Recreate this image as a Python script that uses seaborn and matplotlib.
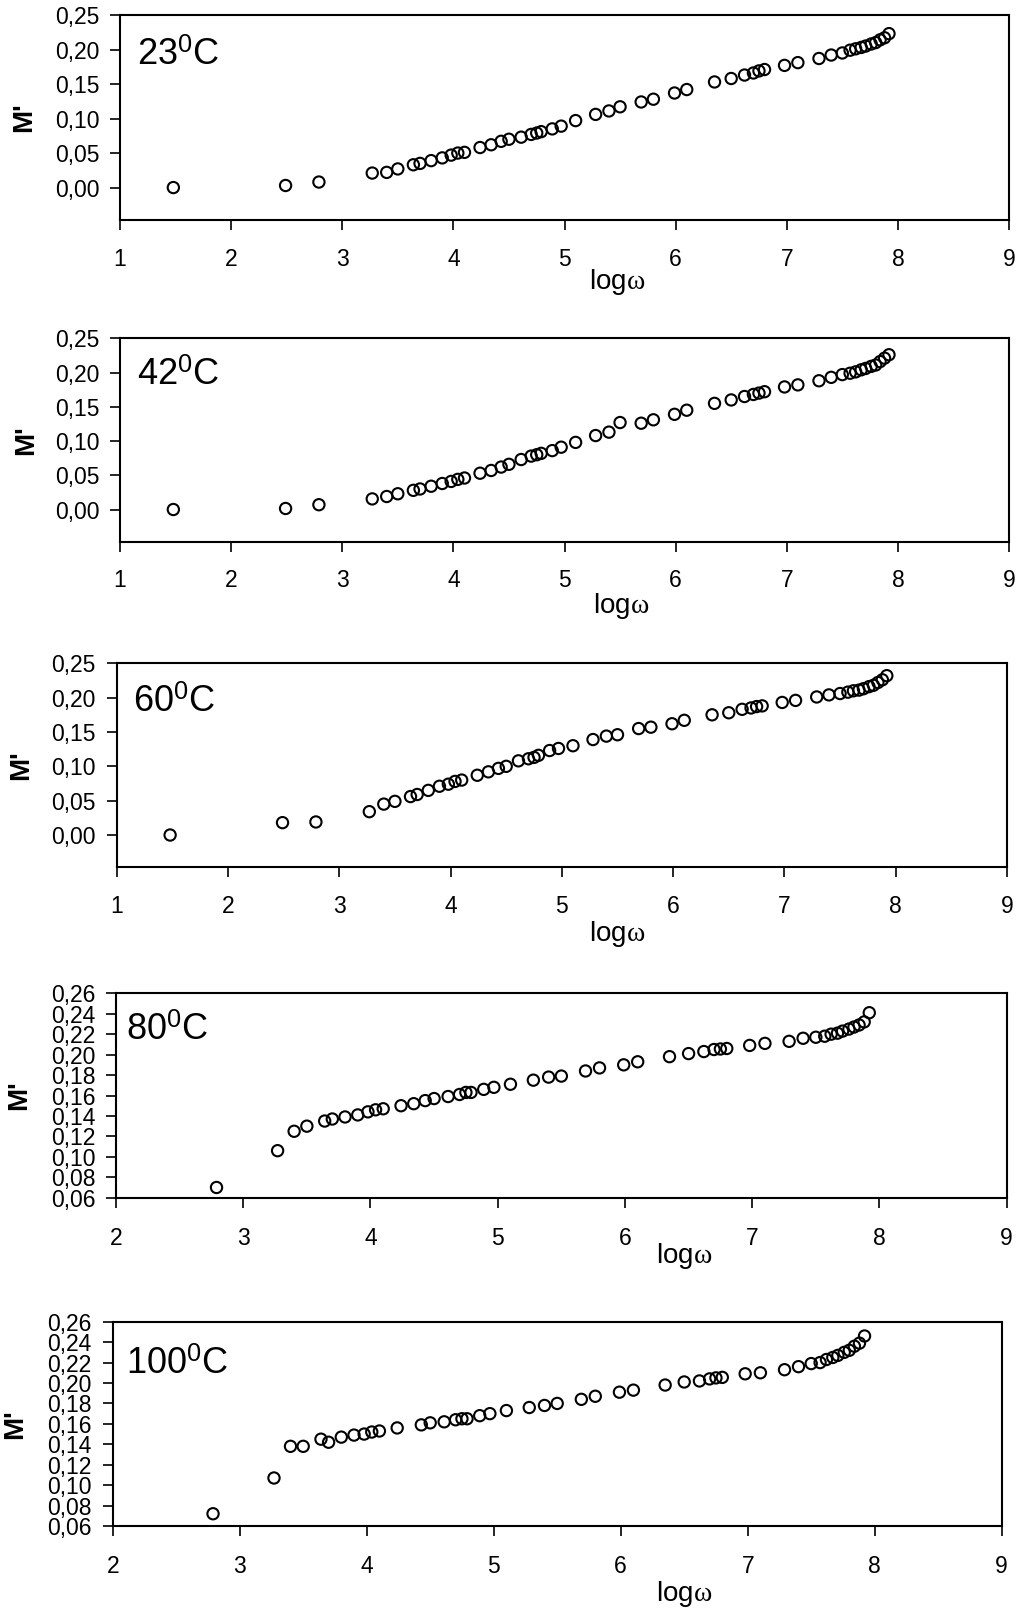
import numpy as np
import pandas as pd
import matplotlib
matplotlib.use("Agg")
import matplotlib.pyplot as plt
import seaborn as sns
from matplotlib.ticker import FixedLocator, FuncFormatter

nan = np.nan

# ---------------- data ----------------
LOG_W = [1.48, 2.49, 2.79, 3.27, 3.40, 3.50, 3.64, 3.70, 3.80, 3.90,
         3.98, 4.04, 4.10, 4.24, 4.34, 4.43, 4.50, 4.61, 4.70, 4.75,
         4.79, 4.89, 4.97, 5.10, 5.28, 5.40, 5.50, 5.69, 5.80, 5.99,
         6.10, 6.35, 6.50, 6.62, 6.70, 6.75, 6.80, 6.98, 7.10, 7.29,
         7.40, 7.50, 7.57, 7.62, 7.67, 7.71, 7.76, 7.80, 7.84, 7.88,
         7.92]

M_23 = [0.000, 0.003, 0.008, 0.021, 0.022, 0.027, 0.033, 0.035, 0.039, 0.043,
        0.047, 0.050, 0.051, 0.058, 0.062, 0.067, 0.070, 0.073, 0.077, 0.079,
        0.081, 0.085, 0.089, 0.097, 0.106, 0.111, 0.117, 0.124, 0.128, 0.137,
        0.142, 0.153, 0.158, 0.163, 0.166, 0.169, 0.171, 0.177, 0.181, 0.187,
        0.192, 0.195, 0.199, 0.201, 0.203, 0.205, 0.208, 0.210, 0.214, 0.217,
        0.223]

M_42 = [0.000, 0.0015, 0.007, 0.0155, 0.019, 0.023, 0.028, 0.030, 0.034, 0.038,
        0.041, 0.044, 0.046, 0.053, 0.057, 0.062, 0.066, 0.073, 0.078, 0.080,
        0.082, 0.086, 0.091, 0.098, 0.108, 0.113, 0.127, 0.126, 0.131, 0.139,
        0.145, 0.155, 0.160, 0.165, 0.168, 0.170, 0.172, 0.179, 0.182, 0.188,
        0.193, 0.197, 0.199, 0.201, 0.204, 0.206, 0.209, 0.211, 0.216, 0.221,
        0.226]

M_60 = [0.000, 0.018, 0.019, 0.034, 0.045, 0.049, 0.056, 0.059, 0.065, 0.071,
        0.074, 0.078, 0.080, 0.087, 0.092, 0.097, 0.100, 0.108, 0.111, 0.113,
        0.116, 0.123, 0.126, 0.130, 0.139, 0.144, 0.146, 0.155, 0.157, 0.162,
        0.167, 0.175, 0.178, 0.183, 0.185, 0.187, 0.188, 0.193, 0.196, 0.201,
        0.204, 0.206, 0.208, 0.210, 0.211, 0.213, 0.216, 0.218, 0.222, 0.226,
        0.232]

M_80 = [nan, nan, 0.070, 0.106, 0.125, 0.130, 0.135, 0.137, 0.139, 0.141,
        0.144, 0.146, 0.147, 0.150, 0.152, 0.155, 0.157, 0.159, 0.161, 0.163,
        0.163, 0.166, 0.168, 0.171, 0.175, 0.178, 0.179, 0.184, 0.187, 0.190,
        0.193, 0.198, 0.201, 0.203, 0.205, 0.2055, 0.206, 0.209, 0.211, 0.213,
        0.216, 0.217, 0.218, 0.220, 0.221, 0.223, 0.225, 0.227, 0.229, 0.232,
        0.241]

M_100 = [nan, nan, 0.072, 0.107, 0.138, 0.138, 0.145, 0.142, 0.147, 0.149,
         0.150, 0.152, 0.153, 0.156, nan, 0.159, 0.161, 0.162, 0.164, 0.165,
         0.165, 0.168, 0.170, 0.173, 0.176, 0.178, 0.180, 0.184, 0.187, 0.191,
         0.193, 0.198, 0.201, 0.202, 0.204, 0.205, 0.2055, 0.209, 0.210, 0.213,
         0.216, 0.219, 0.220, 0.223, 0.225, 0.227, 0.230, 0.232, 0.236, 0.239,
         0.246]

TEMPS = ["23", "42", "60", "80", "100"]
SERIES = [M_23, M_42, M_60, M_80, M_100]
X_TICKS_A = [1, 2, 3, 4, 5, 6, 7, 8, 9]
X_TICKS_B = [2, 3, 4, 5, 6, 7, 8, 9]
Y_TICKS_A = [0.00, 0.05, 0.10, 0.15, 0.20, 0.25]
Y_TICKS_B = [0.06, 0.08, 0.10, 0.12, 0.14, 0.16, 0.18, 0.20, 0.22, 0.24, 0.26]

# ---------------- style ----------------
sns.set_theme(style="white")
plt.rcParams['font.family'] = ['Liberation Sans', 'DejaVu Sans']
plt.rcParams['mathtext.fontset'] = 'custom'
plt.rcParams['mathtext.rm'] = 'Liberation Sans'
plt.rcParams['mathtext.it'] = 'Liberation Serif'
plt.rcParams['mathtext.bf'] = 'Liberation Sans:bold'

W, H = 1021, 1613
fig = plt.figure(figsize=(W / 100, H / 100), dpi=100)
fig.patch.set_facecolor('white')

# layout (pixels): left, top, right, bottom
BOXES = [(120, 15, 1009, 220),
         (120, 338.3, 1009, 541.7),
         (116.7, 663.3, 1007, 867.3),
         (116, 993.3, 1006.7, 1197.7),
         (112.7, 1321.7, 1001.7, 1526)]
TEMP_POS = [(0.019, 0.756), (0.019, 0.770), (0.018, 0.763), (0.011, 0.771), (0.015, 0.744)]
YLAB_X = [24, 26, 21, 19, 15]
XLAB_POS = [(617, 289), (621, 613), (617, 941), (684, 1263), (684, 1601)]
XPADS = [13, 13, 13, 14, 14]

comma = FuncFormatter(lambda v, p: f"{v:.2f}".replace('.', ','))

for i, (T, M) in enumerate(zip(TEMPS, SERIES)):
    l, t, r, b = BOXES[i]
    ax = fig.add_axes([l / W, 1 - b / H, (r - l) / W, (b - t) / H])
    ax.set_facecolor('white')
    df = pd.DataFrame({"logw": LOG_W, "M": M}).dropna()
    sns.scatterplot(data=df, x="logw", y="M", ax=ax, marker='o', s=66,
                    facecolor='none', edgecolor='black', linewidth=1.5,
                    legend=False, zorder=3)
    if i < 3:
        ax.set_xlim(1, 9)
        ax.set_ylim(-0.047, 0.25)
        ax.xaxis.set_major_locator(FixedLocator(X_TICKS_A))
        ax.yaxis.set_major_locator(FixedLocator(Y_TICKS_A))
    else:
        ax.set_xlim(2, 9)
        ax.set_ylim(0.06, 0.26)
        ax.xaxis.set_major_locator(FixedLocator(X_TICKS_B))
        ax.yaxis.set_major_locator(FixedLocator(Y_TICKS_B))
    ax.yaxis.set_major_formatter(comma)
    ax.set_xlabel("")
    ax.set_ylabel("")
    for s in ax.spines.values():
        s.set_visible(True)
        s.set_color('black')
        s.set_linewidth(1.5)
    ax.tick_params(axis='both', which='major', direction='out', length=7,
                   width=1.2, color='black', labelsize=16.5, labelcolor='black',
                   left=True, bottom=True, top=False, right=False)
    ax.tick_params(axis='x', pad=XPADS[i])
    ax.tick_params(axis='y', pad=8)

    tx, ty = TEMP_POS[i]
    ax.text(tx, ty, f"{T}$^0$C", transform=ax.transAxes, fontsize=26,
            ha='left', va='baseline', color='black')
    ax.text((YLAB_X[i] - l) / (r - l), 0.5, "M'", transform=ax.transAxes,
            rotation=90, ha='center', va='center', fontsize=20,
            fontweight='bold', color='black')
    xx, yy = XLAB_POS[i]
    fig.text(xx / W, 1 - yy / H, r"log$\omega$", ha='center', va='baseline',
             fontsize=20, color='black')

fig.savefig("out.png", dpi=100)
